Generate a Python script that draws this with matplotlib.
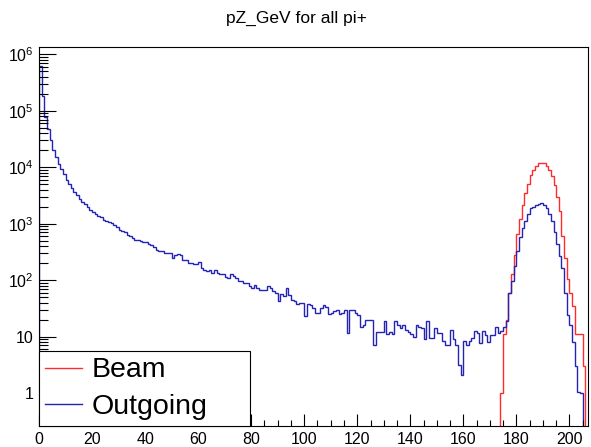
import matplotlib
matplotlib.use("Agg")
import matplotlib.pyplot as plt
import numpy as np

plt.rcParams['font.family'] = ['Liberation Sans', 'DejaVu Sans']
plt.rcParams['mathtext.fontset'] = 'custom'
plt.rcParams['mathtext.rm'] = 'Liberation Sans'
plt.rcParams['mathtext.it'] = 'Liberation Sans:italic'

title = "pZ_GeV for all pi+"
n_bins = 207
x_max = 207

# Outgoing pi+ counts per 1 GeV bin, starting at 0
outgoing_counts = [
    630000, 185000, 79000, 48000, 30000, 20000, 15000, 11500, 9300, 7500,
    6000, 5000, 4200, 3600, 3200, 2750, 2400, 2200, 1950, 1750,
    1600, 1480, 1380, 1300, 1170, 1100, 1050, 1030, 960, 860,
    780, 750, 700, 630, 600, 555, 510, 510, 490, 465,
    465, 445, 420, 390, 340, 325, 325, 305, 305, 305,
    245, 275, 290, 275, 225, 225, 205, 205, 190, 190,
    212, 165, 150, 145, 150, 135, 150, 135, 130, 126,
    113, 110, 126, 120, 107, 98, 95, 89, 89, 78,
    72, 83, 72, 67, 68, 68, 78, 73, 64, 59,
    42, 57, 52, 73, 55, 45, 43, 37, 39, 40,
    23, 38, 36, 32, 26, 26, 32, 36, 34, 25,
    26, 28, 30, 25, 26, 30, 11.5, 30, 29, 26,
    24, 15, 16, 20, 20, 20, 7.1, 12, 12, 12,
    19, 11, 12, 11, 19, 16, 14, 16, 13, 12,
    11, 10, 16, 15, 14, 9, 19, 9.5, 9.5, 14,
    11.5, 11.5, 8.5, 7.2, 7.2, 13, 9, 7.2, 3.1, 2.1,
    8.5, 7.2, 8.5, 9.3, 12.5, 11.5, 7.6, 12.5, 10.5, 8,
    10.5, 10.5, 14.5, 11.5, 12.3, 15, 18.5, 59, 96, 178,
    330, 590, 840, 1130, 1480, 1900, 2000, 2150, 2240, 2300,
    2100, 1900, 1480, 1130, 700, 435, 270, 165, 59, 24,
    16, 8, 3, 1.05, 1, 0, 0,
]

# Beam pi+ counts, non-zero only from bin 174 on
beam_first_bin = 174
beam_counts = [
    1, 11, 20, 59, 126, 280, 655, 1210, 2100, 3540,
    5100, 7200, 9100, 10400, 11700, 12000, 11800, 10500, 9000, 6900,
    4800, 3000, 1700, 600, 250, 105, 60, 35, 11, 11,
    11, 3,
]

legend_labels = ["Beam", "Outgoing"]
ytick_values = [1, 10, 1e2, 1e3, 1e4, 1e5, 1e6]
ytick_labels = ["1", "10", r"$10^{2}$", r"$10^{3}$", r"$10^{4}$", r"$10^{5}$", r"$10^{6}$"]
xtick_values = list(range(0, 201, 20))

edges = np.arange(n_bins + 1)
outgoing = np.array(outgoing_counts, dtype=float)
beam = np.zeros(n_bins)
beam[beam_first_bin:beam_first_bin + len(beam_counts)] = beam_counts

fig = plt.figure(figsize=(5.91, 4.47), dpi=100)
ax = fig.add_axes([39 / 591, 1 - 426 / 447, 549 / 591, 379 / 447])

ax.set_yscale('log', nonpositive='clip')
ax.stairs(beam, edges, color='#ff2a2a', lw=1.0, label=legend_labels[0])
ax.stairs(outgoing, edges, color='#2424b4', lw=1.0, label=legend_labels[1])

ax.set_xlim(0, x_max)
ax.set_ylim(0.26, 1.35e6)

ax.set_xticks(xtick_values)
ax.set_xticks(np.arange(0, x_max, 5), minor=True)
ax.set_yticks(ytick_values)
ax.set_yticklabels(ytick_labels)
ax.yaxis.set_minor_locator(matplotlib.ticker.LogLocator(base=10, subs=np.arange(2, 10)))
ax.yaxis.set_minor_formatter(matplotlib.ticker.NullFormatter())

ax.tick_params(axis='both', which='both', direction='in', top=False, right=False,
               width=0.8, labelsize=11.5, colors='black')
ax.tick_params(axis='y', which='major', length=12, pad=4)
ax.tick_params(axis='y', which='minor', length=6.5)
ax.tick_params(axis='x', which='major', length=8.5, pad=4)
ax.tick_params(axis='x', which='minor', length=4.3)
for sp in ax.spines.values():
    sp.set_linewidth(0.8)

fig.text(0.502, 1 - 18 / 447, title, ha='center', va='center', fontsize=12.5)

leg = ax.legend(loc='lower left', bbox_to_anchor=(0, 0, 211 / 549, 74 / 379),
                mode='expand', fontsize=20.5, frameon=True, fancybox=False,
                borderaxespad=0, borderpad=0.22, labelspacing=0.36,
                handlelength=1.3, handletextpad=0.33)
leg.get_frame().set_edgecolor('black')
leg.get_frame().set_linewidth(0.8)
leg.get_frame().set_alpha(1)
for h in leg.get_lines():
    h.set_linewidth(1.0)

fig.savefig("out.png", dpi=100)
